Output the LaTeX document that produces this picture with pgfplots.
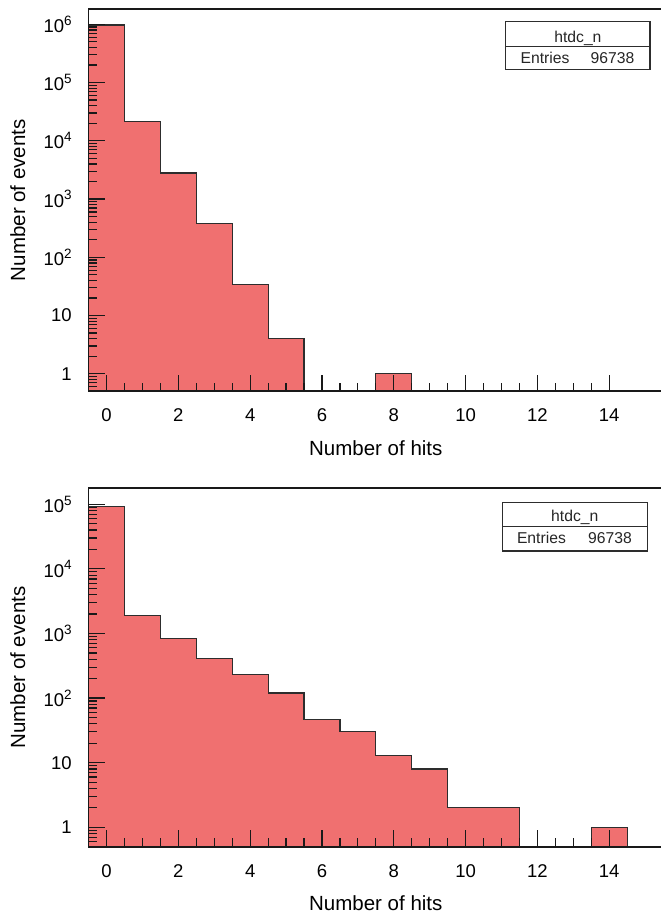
\documentclass[border=0pt]{standalone}
\usepackage{pgfplots}
\pgfplotsset{compat=1.18}
\usepackage{fontspec}
\setmainfont{Liberation Sans}
\definecolor{histred}{RGB}{240,112,112}
\definecolor{histline}{RGB}{45,45,45}
\definecolor{frame}{RGB}{25,25,25}
\newcommand{\ttl}{\fontsize{18.5}{20}\selectfont}
\newcommand{\sups}[1]{\raisebox{7.3pt}{\fontsize{13.5}{14}\selectfont #1}}
\pgfplotsset{
  rootaxis/.style={
    scale only axis, width=574.4pt, xmin=-0.5, xmax=15.5, ymin=0.5,
    anchor=south west,
    axis on top, tick align=inside, tick pos=left,
    axis line style={line width=1.8pt, frame},
    every tick/.style={line width=1.2pt, frame},
    major tick length=16.8pt, minor tick length=8.5pt,
    xtick={0,2,...,14}, minor x tick num=3,
    ytick={1,10,100,1000,10000,100000,1000000},
    yticklabels={1,10,10\sups{2},10\sups{3},10\sups{4},10\sups{5},10\sups{6}},
    minor ytick={0.6,0.7,0.8,0.9,2,3,4,5,6,7,8,9,20,30,40,50,60,70,80,90,200,300,400,500,600,700,800,900,2000,3000,4000,5000,6000,7000,8000,9000,20000,30000,40000,50000,60000,70000,80000,90000,200000,300000,400000,500000,600000,700000,800000,900000},
    ticklabel style={font=\ttl},
    xticklabel style={anchor=north, inner sep=0pt, yshift=-17.5pt},
    yticklabel style={anchor=east, inner sep=0pt, xshift=-16.8pt},
    label style={font=\fontsize{20.5}{22}\selectfont, inner sep=0pt},
    xlabel={Number of hits}, ylabel={Number of events},
    xlabel style={anchor=base},
    ylabel style={anchor=base},
    /pgf/number format/assume math mode=true,
  },
  hist/.style={const plot, fill=histred, draw=histline, line width=1.2pt},
}
\begin{document}
\begin{tikzpicture}
\path[use as bounding box] (0,0) rectangle (661pt,916pt);
% ---------- top ----------
\begin{axis}[ymode=log, rootaxis, at={(88.6pt,524.7pt)}, height=382.3pt, ymax=1.83e6,
  xlabel style={at={(axis description cs:0.5,-0.1674)}},
  ylabel style={at={(axis description cs:-0.1107,0.5)}}]
\addplot[hist] coordinates {(-0.5,0.5) (-0.5,970000) (0.5,21500) (1.5,2800) (2.5,375) (3.5,34) (4.5,4) (5.5,4) (5.5,0.5)};
\addplot[hist] coordinates {(7.5,0.5) (7.5,1) (8.5,1) (8.5,0.5)};
\end{axis}
% ---------- bottom ----------
\begin{axis}[ymode=log, rootaxis, at={(88.6pt,69.3pt)}, height=358.4pt, ymax=1.77e5,
  xlabel style={at={(axis description cs:0.5,-0.1786)}},
  ylabel style={at={(axis description cs:-0.1107,0.5)}}]
\addplot[hist] coordinates {(-0.5,0.5) (-0.5,93200) (0.5,1880) (1.5,837) (2.5,411) (3.5,230) (4.5,120) (5.5,46) (6.5,30) (7.5,13) (8.5,8) (9.5,2) (10.5,2) (11.5,2) (11.5,0.5)};
\addplot[hist] coordinates {(13.5,0.5) (13.5,1) (14.5,1) (14.5,0.5)};
\end{axis}
% ---------- stats boxes ----------
\begin{scope}[line width=1.2pt, histline, every node/.style={inner sep=0pt, text=black!85, font=\fontsize{15.7}{17}\selectfont}]
\draw[fill=white] (505.7pt,846.3pt) rectangle (650pt,894.3pt);
\draw (505.7pt,869.3pt) -- (650pt,869.3pt);
\node[anchor=base] at (577.9pt,873.8pt) {htdc\_n};
\node[anchor=base west] at (520pt,852pt) {Entries};
\node[anchor=base east] at (635pt,852pt) {96738};
\draw[fill=white] (502.2pt,365pt) rectangle (647.4pt,413.7pt);
\draw (502.2pt,389.3pt) -- (647.4pt,389.3pt);
\node[anchor=base] at (574.8pt,394.5pt) {htdc\_n};
\node[anchor=base west] at (516.4pt,372.5pt) {Entries};
\node[anchor=base east] at (632.4pt,372.5pt) {96738};
\end{scope}
\end{tikzpicture}
\end{document}
